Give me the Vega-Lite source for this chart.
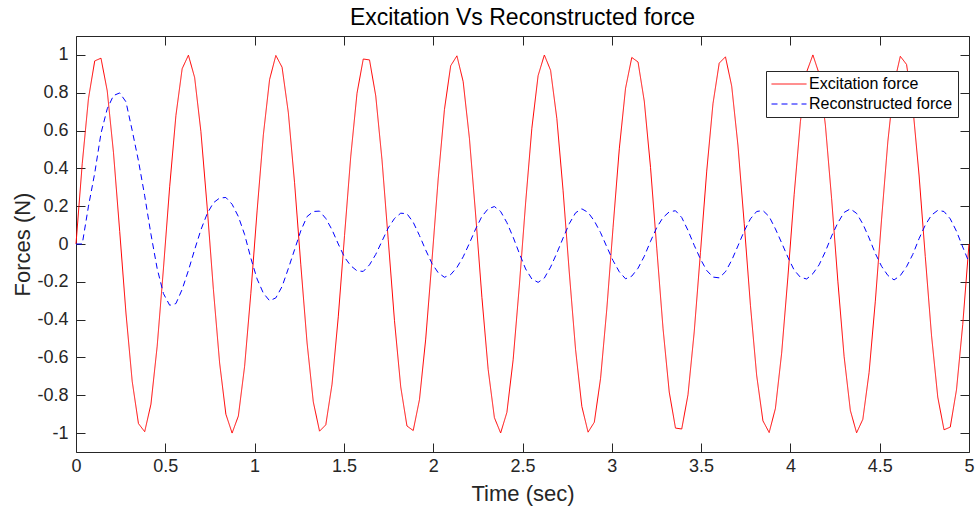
{
  "$schema": "https://vega.github.io/schema/vega-lite/v6.json",
  "width": 893,
  "height": 416,
  "autosize": {"type": "none"},
  "padding": {"left": 76, "top": 36, "right": 7, "bottom": 58},
  "background": "white",
  "title": {"text": "Excitation Vs Reconstructed force", "font": "Liberation Sans", "fontSize": 23, "fontWeight": "normal", "color": "#000000", "offset": 6, "anchor": "middle"},
  "config": {
    "view": {"stroke": null},
    "axis": {"domainColor": "#262626", "tickColor": "#262626", "labelColor": "#262626", "titleColor": "#262626", "labelFont": "Liberation Sans", "titleFont": "Liberation Sans", "labelFontSize": 18, "titleFontSize": 22, "titleFontWeight": "normal", "grid": false, "tickSize": -9, "domainWidth": 1, "tickWidth": 1, "labelFlush": false, "labelOverlap": false, "labelBound": false}
  },
  "data": {"values": [
    {"t":0,"exc":0,"rec":0},{"t":0.035,"exc":0.4254,"rec":0},{"t":0.0699,"exc":0.77,"rec":0.2},{"t":0.1049,"exc":0.9683,"rec":0.375},{"t":0.1399,"exc":0.9826,"rec":0.585},{"t":0.1748,"exc":0.8104,"rec":0.715},{"t":0.2098,"exc":0.4841,"rec":0.785},{"t":0.2448,"exc":0.0659,"rec":0.799},{"t":0.2797,"exc":-0.3649,"rec":0.752},{"t":0.3147,"exc":-0.7263,"rec":0.6},
    {"t":0.3497,"exc":-0.9497,"rec":0.44},{"t":0.3846,"exc":-0.9927,"rec":0.255},{"t":0.4196,"exc":-0.8472,"rec":0.052},{"t":0.4545,"exc":-0.5407,"rec":-0.13},{"t":0.4895,"exc":-0.1314,"rec":-0.262},{"t":0.5245,"exc":0.3027,"rec":-0.324},{"t":0.5594,"exc":0.6794,"rec":-0.315},{"t":0.5944,"exc":0.927,"rec":-0.24},{"t":0.6294,"exc":0.9985,"rec":-0.14},{"t":0.6643,"exc":0.8803,"rec":-0.03},
    {"t":0.6993,"exc":0.5948,"rec":0.075},{"t":0.7343,"exc":0.1965,"rec":0.16},{"t":0.7692,"exc":-0.2394,"rec":0.218},{"t":0.8042,"exc":-0.6296,"rec":0.243},{"t":0.8392,"exc":-0.9003,"rec":0.246},{"t":0.8741,"exc":-0.9999,"rec":0.21},{"t":0.9091,"exc":-0.9096,"rec":0.145},{"t":0.9441,"exc":-0.6465,"rec":0.05},{"t":0.979,"exc":-0.2605,"rec":-0.075},{"t":1.014,"exc":0.1749,"rec":-0.185},
    {"t":1.049,"exc":0.5771,"rec":-0.26},{"t":1.0839,"exc":0.8696,"rec":-0.3},{"t":1.1189,"exc":0.997,"rec":-0.285},{"t":1.1538,"exc":0.935,"rec":-0.225},{"t":1.1888,"exc":0.6954,"rec":-0.13},{"t":1.2238,"exc":0.3236,"rec":-0.03},{"t":1.2587,"exc":-0.1096,"rec":0.07},{"t":1.2937,"exc":-0.5221,"rec":0.145},{"t":1.3287,"exc":-0.8352,"rec":0.172},{"t":1.3636,"exc":-0.9898,"rec":0.174},
    {"t":1.3986,"exc":-0.9564,"rec":0.135},{"t":1.4336,"exc":-0.7413,"rec":0.075},{"t":1.4685,"exc":-0.3852,"rec":0},{"t":1.5035,"exc":0.044,"rec":-0.07},{"t":1.5385,"exc":0.4647,"rec":-0.115},{"t":1.5734,"exc":0.7972,"rec":-0.142},{"t":1.6084,"exc":0.9783,"rec":-0.145},{"t":1.6434,"exc":0.9735,"rec":-0.11},{"t":1.6783,"exc":0.7837,"rec":-0.055},{"t":1.7133,"exc":0.4451,"rec":0.015},
    {"t":1.7483,"exc":0.022,"rec":0.085},{"t":1.7832,"exc":-0.4055,"rec":0.135},{"t":1.8182,"exc":-0.7557,"rec":0.163},{"t":1.8531,"exc":-0.9625,"rec":0.16},{"t":1.8881,"exc":-0.9865,"rec":0.115},{"t":1.9231,"exc":-0.823,"rec":0.045},{"t":1.958,"exc":-0.5032,"rec":-0.032},{"t":1.993,"exc":-0.0877,"rec":-0.103},{"t":2.028,"exc":0.3443,"rec":-0.152},{"t":2.0629,"exc":0.7109,"rec":-0.176},
    {"t":2.0979,"exc":0.9426,"rec":-0.162},{"t":2.1329,"exc":0.9951,"rec":-0.124},{"t":2.1678,"exc":0.8587,"rec":-0.068},{"t":2.2028,"exc":0.559,"rec":0.004},{"t":2.2378,"exc":0.1532,"rec":0.08},{"t":2.2727,"exc":-0.2817,"rec":0.146},{"t":2.3077,"exc":-0.6632,"rec":0.186},{"t":2.3427,"exc":-0.9185,"rec":0.198},{"t":2.3776,"exc":-0.9995,"rec":0.172},{"t":2.4126,"exc":-0.8905,"rec":0.113},
    {"t":2.4476,"exc":-0.6124,"rec":0.036},{"t":2.4825,"exc":-0.218,"rec":-0.05},{"t":2.5175,"exc":0.218,"rec":-0.132},{"t":2.5524,"exc":0.6124,"rec":-0.185},{"t":2.5874,"exc":0.8905,"rec":-0.203},{"t":2.6224,"exc":0.9995,"rec":-0.18},{"t":2.6573,"exc":0.9185,"rec":-0.122},{"t":2.6923,"exc":0.6632,"rec":-0.048},{"t":2.7273,"exc":0.2817,"rec":0.032},{"t":2.7622,"exc":-0.1532,"rec":0.108},
    {"t":2.7972,"exc":-0.559,"rec":0.165},{"t":2.8322,"exc":-0.8587,"rec":0.186},{"t":2.8671,"exc":-0.9951,"rec":0.167},{"t":2.9021,"exc":-0.9426,"rec":0.122},{"t":2.9371,"exc":-0.7109,"rec":0.06},{"t":2.972,"exc":-0.3443,"rec":-0.015},{"t":3.007,"exc":0.0877,"rec":-0.088},{"t":3.042,"exc":0.5032,"rec":-0.147},{"t":3.0769,"exc":0.823,"rec":-0.184},{"t":3.1119,"exc":0.9865,"rec":-0.17},
    {"t":3.1469,"exc":0.9625,"rec":-0.128},{"t":3.1818,"exc":0.7557,"rec":-0.065},{"t":3.2168,"exc":0.4055,"rec":0.014},{"t":3.2517,"exc":-0.022,"rec":0.087},{"t":3.2867,"exc":-0.4451,"rec":0.14},{"t":3.3217,"exc":-0.7837,"rec":0.17},{"t":3.3566,"exc":-0.9735,"rec":0.176},{"t":3.3916,"exc":-0.9783,"rec":0.14},{"t":3.4266,"exc":-0.7972,"rec":0.072},{"t":3.4615,"exc":-0.4647,"rec":-0.007},
    {"t":3.4965,"exc":-0.044,"rec":-0.08},{"t":3.5315,"exc":0.3852,"rec":-0.14},{"t":3.5664,"exc":0.7413,"rec":-0.175},{"t":3.6014,"exc":0.9564,"rec":-0.179},{"t":3.6364,"exc":0.9898,"rec":-0.147},{"t":3.6713,"exc":0.8352,"rec":-0.086},{"t":3.7063,"exc":0.5221,"rec":-0.01},{"t":3.7413,"exc":0.1096,"rec":0.068},{"t":3.7762,"exc":-0.3236,"rec":0.133},{"t":3.8112,"exc":-0.6954,"rec":0.172},
    {"t":3.8462,"exc":-0.935,"rec":0.177},{"t":3.8811,"exc":-0.997,"rec":0.145},{"t":3.9161,"exc":-0.8696,"rec":0.08},{"t":3.951,"exc":-0.5771,"rec":0.006},{"t":3.986,"exc":-0.1749,"rec":-0.07},{"t":4.021,"exc":0.2605,"rec":-0.138},{"t":4.0559,"exc":0.6465,"rec":-0.176},{"t":4.0909,"exc":0.9096,"rec":-0.185},{"t":4.1259,"exc":0.9999,"rec":-0.157},{"t":4.1608,"exc":0.9003,"rec":-0.11},
    {"t":4.1958,"exc":0.6296,"rec":-0.04},{"t":4.2308,"exc":0.2394,"rec":0.042},{"t":4.2657,"exc":-0.1965,"rec":0.112},{"t":4.3007,"exc":-0.5948,"rec":0.167},{"t":4.3357,"exc":-0.8803,"rec":0.186},{"t":4.3706,"exc":-0.9985,"rec":0.162},{"t":4.4056,"exc":-0.927,"rec":0.106},{"t":4.4406,"exc":-0.6794,"rec":0.032},{"t":4.4755,"exc":-0.3027,"rec":-0.05},{"t":4.5105,"exc":0.1314,"rec":-0.118},
    {"t":4.5455,"exc":0.5407,"rec":-0.166},{"t":4.5804,"exc":0.8472,"rec":-0.19},{"t":4.6154,"exc":0.9927,"rec":-0.167},{"t":4.6503,"exc":0.9497,"rec":-0.12},{"t":4.6853,"exc":0.7263,"rec":-0.055},{"t":4.7203,"exc":0.3649,"rec":0.028},{"t":4.7552,"exc":-0.0659,"rec":0.1},{"t":4.7902,"exc":-0.4841,"rec":0.153},{"t":4.8252,"exc":-0.8104,"rec":0.178},{"t":4.8601,"exc":-0.9826,"rec":0.172},
    {"t":4.8951,"exc":-0.9683,"rec":0.133},{"t":4.9301,"exc":-0.77,"rec":0.067},{"t":4.965,"exc":-0.4254,"rec":-0.016},{"t":5,"exc":0,"rec":-0.097}
  ]},
  "transform": [{"fold": ["exc", "rec"], "as": ["series", "value"]}],
  "layer": [
    {
      "mark": {"type": "line", "strokeWidth": 1},
      "encoding": {
        "x": {"field": "t", "type": "quantitative", "scale": {"domain": [0, 5], "nice": false, "zero": false},
              "axis": {"orient": "bottom", "title": "Time (sec)", "values": [0,0.5,1,1.5,2,2.5,3,3.5,4,4.5,5], "labelExpr": "format(datum.value, '~g')", "labelPadding": 14, "titlePadding": 8}},
        "y": {"field": "value", "type": "quantitative", "scale": {"domain": [-1.1, 1.1], "nice": false, "zero": false},
              "axis": {"orient": "left", "title": "Forces (N)", "values": [-1,-0.8,-0.6,-0.4,-0.2,0,0.2,0.4,0.6,0.8,1], "labelExpr": "(datum.value < 0 ? '-' : '') + format(abs(datum.value), '~g')", "labelPadding": 17, "titlePadding": 2}},
        "color": {"field": "series", "type": "nominal", "scale": {"domain": ["exc", "rec"], "range": ["#FF0000", "#0000FF"]},
                  "legend": {"title": null, "orient": "none", "legendX": 690, "legendY": 35, "direction": "vertical", "symbolType": "stroke", "symbolSize": 1225, "symbolStrokeWidth": 1, "clipHeight": 16, "rowPadding": 4, "padding": 5, "labelOffset": 2, "labelFont": "Liberation Sans", "labelFontSize": 16, "labelColor": "#000000", "strokeColor": "#262626", "fillColor": "#FFFFFF", "labelExpr": "datum.label == 'exc' ? 'Excitation force' : 'Reconstructed force'"}},
        "strokeDash": {"field": "series", "type": "nominal", "scale": {"domain": ["exc", "rec"], "range": [[1, 0], [6, 4]]},
                  "legend": {"title": null, "orient": "none", "legendX": 690, "legendY": 35, "direction": "vertical", "symbolType": "stroke", "symbolSize": 1225, "symbolStrokeWidth": 1, "clipHeight": 16, "rowPadding": 4, "padding": 5, "labelOffset": 2, "labelFont": "Liberation Sans", "labelFontSize": 16, "labelColor": "#000000", "strokeColor": "#262626", "fillColor": "#FFFFFF", "labelExpr": "datum.label == 'exc' ? 'Excitation force' : 'Reconstructed force'"}}
      }
    },
    {
      "mark": {"type": "point", "opacity": 0},
      "encoding": {
        "x": {"field": "t", "type": "quantitative", "axis": {"orient": "top", "title": null, "labels": false, "values": [0,0.5,1,1.5,2,2.5,3,3.5,4,4.5,5]}},
        "y": {"field": "value", "type": "quantitative", "axis": {"orient": "right", "title": null, "labels": false, "values": [-1,-0.8,-0.6,-0.4,-0.2,0,0.2,0.4,0.6,0.8,1]}}
      }
    }
  ],
  "resolve": {"axis": {"x": "independent", "y": "independent"}}
}
